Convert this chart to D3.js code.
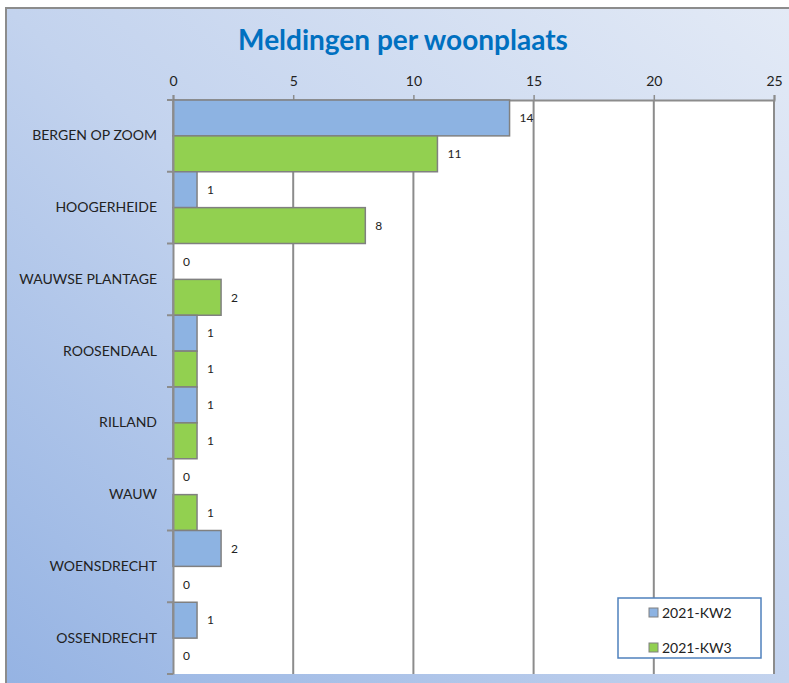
<!DOCTYPE html>
<html>
<head>
<meta charset="utf-8">
<script src="https://cdn.jsdelivr.net/npm/d3@7"></script>
<style>
  body { margin: 0; background: #fff; }
  svg { display: block; }
</style>
</head>
<body>
<div id="chart"></div>
<script>
// Data
const places = ["BERGEN OP ZOOM", "HOOGERHEIDE", "WAUWSE PLANTAGE", "ROOSENDAAL", "RILLAND", "WAUW", "WOENSDRECHT", "OSSENDRECHT"];
const seriesNames = ["2021-KW2", "2021-KW3"];
const kw2 = [14, 1, 0, 1, 1, 0, 2, 1];
const kw3 = [11, 8, 2, 1, 1, 1, 0, 0];
const xTicks = [0, 5, 10, 15, 20, 25];
const colors = ["#8db3e2", "#92d050"];

const width = 789, height = 683;
const plot = { left: 173, top: 100, right: 774, bottom: 674 };

const svg = d3.select("#chart").append("svg")
    .attr("width", width)
    .attr("height", height);

// background gradient (light top-right, darker bottom-left)
const defs = svg.append("defs");
const grad = defs.append("linearGradient")
    .attr("id", "bg")
    .attr("x1", "0%").attr("y1", "100%")
    .attr("x2", "100%").attr("y2", "0%");
grad.append("stop").attr("offset", "0%").attr("stop-color", "#95b3e3");
grad.append("stop").attr("offset", "50%").attr("stop-color", "#c3d3ee");
grad.append("stop").attr("offset", "100%").attr("stop-color", "#e3eaf6");

svg.append("rect")
    .attr("x", 6).attr("y", 8)
    .attr("width", width - 6 + 2).attr("height", height - 8 + 2)
    .attr("fill", "url(#bg)")
    .attr("stroke", "#8c8c8c")
    .attr("stroke-width", 2);

// Title
svg.append("text")
    .attr("x", 403).attr("y", 50)
    .attr("text-anchor", "middle")
    .attr("font-family", "Lato, 'Open Sans', sans-serif")
    .attr("font-weight", "bold")
    .attr("font-size", 28)
    .attr("fill", "#0070c0")
    .text("Meldingen per woonplaats");

// Scales
const x = d3.scaleLinear().domain([0, 25]).range([plot.left, plot.right]);
const y = d3.scaleBand().domain(places).range([plot.top, plot.bottom]).padding(0);
const ySub = d3.scaleBand().domain(seriesNames).range([0, y.bandwidth()]).padding(0);

// plot area
svg.append("rect")
    .attr("x", plot.left).attr("y", plot.top)
    .attr("width", plot.right - plot.left).attr("height", plot.bottom - plot.top)
    .attr("fill", "#fff");

// gridlines
svg.append("g")
    .selectAll("line")
    .data(xTicks.slice(1))
    .join("line")
    .attr("x1", d => x(d)).attr("x2", d => x(d))
    .attr("y1", plot.top).attr("y2", plot.bottom)
    .attr("stroke", "#8c8c8c")
    .attr("stroke-width", 2);

// top axis
const xAxis = svg.append("g")
    .attr("transform", `translate(0,${plot.top})`)
    .call(d3.axisTop(x).tickValues(xTicks).tickSize(5).tickPadding(9));
xAxis.select(".domain").attr("stroke", "#8c8c8c").attr("stroke-width", 2);
xAxis.selectAll(".tick line").attr("stroke", "#8c8c8c").attr("stroke-width", 1.5);
xAxis.selectAll("text")
    .attr("font-family", "Lato, 'Open Sans', sans-serif")
    .attr("font-size", 14)
    .attr("fill", "#222");

// bars
const rows = places.map((p, i) => ({ place: p, values: [kw2[i], kw3[i]] }));
const group = svg.append("g")
    .selectAll("g")
    .data(rows)
    .join("g")
    .attr("transform", d => `translate(0,${y(d.place)})`);

const cells = group.selectAll("g")
    .data(d => d.values.map((v, k) => ({ series: seriesNames[k], value: v, k })))
    .join("g");

cells.filter(d => d.value > 0)
    .append("rect")
    .attr("x", x(0))
    .attr("y", d => ySub(d.series))
    .attr("width", d => x(d.value) - x(0))
    .attr("height", ySub.bandwidth())
    .attr("fill", d => colors[d.k])
    .attr("stroke", "#808080")
    .attr("stroke-width", 1.5);

cells.append("text")
    .attr("x", d => x(d.value) + 10)
    .attr("y", d => ySub(d.series) + ySub.bandwidth() / 2)
    .attr("dy", "0.35em")
    .attr("font-family", "Lato, 'Open Sans', sans-serif")
    .attr("font-size", 12)
    .attr("fill", "#222")
    .text(d => d.value);

// left axis
const yAxis = svg.append("g")
    .attr("transform", `translate(${plot.left},0)`)
    .call(d3.axisLeft(y).tickSize(0).tickPadding(16));
yAxis.select(".domain").attr("stroke", "#8c8c8c").attr("stroke-width", 2);
yAxis.selectAll("text")
    .attr("font-family", "Lato, 'Open Sans', sans-serif")
    .attr("font-size", 14)
    .attr("fill", "#222");

// category boundary ticks
svg.append("g")
    .selectAll("line")
    .data(places.concat(["end"]))
    .join("line")
    .attr("x1", plot.left - 6).attr("x2", plot.left)
    .attr("y1", (d, i) => plot.top + i * y.step())
    .attr("y2", (d, i) => plot.top + i * y.step())
    .attr("stroke", "#8c8c8c")
    .attr("stroke-width", 2);

// legend
const legend = svg.append("g").attr("transform", "translate(618,598)");
legend.append("rect")
    .attr("width", 143).attr("height", 60)
    .attr("fill", "#fff")
    .attr("stroke", "#4f81bd")
    .attr("stroke-width", 1.5);

const items = legend.selectAll("g")
    .data(seriesNames)
    .join("g")
    .attr("transform", (d, i) => `translate(31,${15 + i * 35})`);
items.append("rect")
    .attr("x", 0).attr("y", -5)
    .attr("width", 9).attr("height", 9)
    .attr("fill", (d, i) => colors[i])
    .attr("stroke", "#808080")
    .attr("stroke-width", 1);
items.append("text")
    .attr("x", 13).attr("y", 0)
    .attr("dy", "0.35em")
    .attr("font-family", "Lato, 'Open Sans', sans-serif")
    .attr("font-size", 14)
    .attr("fill", "#222")
    .text(d => d);
</script>
</body>
</html>
